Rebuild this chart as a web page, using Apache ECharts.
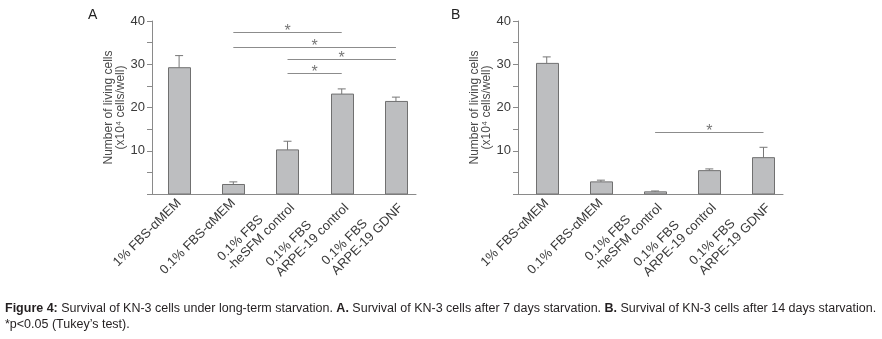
<!DOCTYPE html>
<html><head><meta charset="utf-8">
<script src="https://cdn.jsdelivr.net/npm/echarts@6/dist/echarts.min.js"></script>
<style>html,body{margin:0;padding:0;background:#fff}#c{width:882px;height:339px}</style>
</head><body><div id="c"></div>
<script>
// ---- data ----
const categories = ['1% FBS-αMEM', '0.1% FBS-αMEM', '0.1% FBS\n-heSFM control', '0.1% FBS\nARPE-19 control', '0.1% FBS\nARPE-19 GDNF'];
const meanA = [29.2, 2.2, 10.2, 23.1, 21.4];
const errA = [2.8, 0.6, 2.0, 1.2, 1.0];
const meanB = [30.2, 2.8, 0.5, 5.4, 8.4];
const errB = [1.5, 0.4, 0.2, 0.4, 2.4];
// significance brackets: [from category, to category, height]
const sigA = [[1, 3, 37.5], [1, 4, 34.1], [2, 4, 31.3], [2, 3, 27.9]];
const sigB = [[2, 4, 14.4]];
const yTickLabels = [0, 10, 20, 30, 40];
const panelLetters = ['A', 'B'];
const yName = 'Number of living cells\n(x10⁴ cells/well)';
const captionLine1 = '{b|Figure 4:} Survival of KN-3 cells under long-term starvation. {b|A.} Survival of KN-3 cells after 7 days starvation. {b|B.} Survival of KN-3 cells after 14 days starvation.';
const captionLine2 = '*p<0.05 (Tukey’s test).';

// ---- chart ----
const chart = echarts.init(document.getElementById('c'), null, {renderer: 'canvas'});
const FONT = 'Liberation Sans, Arial, Helvetica, sans-serif';
const AXIS_COLOR = '#8a8a8a';
const TEXT_COLOR = '#3a3a3a';

function barItem(params, api) {
  const i = api.value(0), m = api.value(1), e = api.value(2);
  const base = api.coord([i, 0]);
  const top = api.coord([i, m]);
  const etop = api.coord([i, m + e]);
  const w = api.size([1, 0])[0] * 0.41;
  return {type: 'group', children: [
    {type: 'line', shape: {x1: top[0], y1: top[1], x2: etop[0], y2: etop[1]}, style: {stroke: '#777', lineWidth: 1}},
    {type: 'line', shape: {x1: etop[0] - 4, y1: etop[1], x2: etop[0] + 4, y2: etop[1]}, style: {stroke: '#777', lineWidth: 1}},
    {type: 'rect', shape: {x: Math.round(base[0] - w / 2) + 0.5, y: top[1], width: Math.round(w), height: base[1] - top[1]},
      style: {fill: '#bdbec0', stroke: '#707070', lineWidth: 1}}
  ]};
}
function sigItem(params, api) {
  const a = api.coord([api.value(0), api.value(2)]);
  const b = api.coord([api.value(1), api.value(2)]);
  const y = Math.round(a[1]) + 0.5;
  return {type: 'group', children: [
    {type: 'line', shape: {x1: a[0], y1: y, x2: b[0], y2: y}, style: {stroke: '#8c8c8c', lineWidth: 1}},
    {type: 'text', x: (a[0] + b[0]) / 2, y: y - 1, style: {text: '*', font: '16px ' + FONT, fill: '#777', align: 'center', verticalAlign: 'middle'}}
  ]};
}
function catLabel(v) {
  const lines = categories[v].split('\n');
  return lines.map(l => '{a|' + l + '}').join('\n');
}
function xAxisCfg(grid, min, max) {
  return {
    type: 'value', gridIndex: grid, min: min, max: max,
    axisLine: {show: true, onZero: false, lineStyle: {color: AXIS_COLOR, width: 1}},
    axisTick: {show: false}, splitLine: {show: false},
    axisLabel: {
      customValues: categories.map((c, i) => i), rotate: 45, margin: 7,
      formatter: catLabel,
      rich: {a: {align: 'left', fontSize: 13, fontFamily: FONT, color: TEXT_COLOR, lineHeight: 14}}
    }
  };
}
function yAxisCfg(grid) {
  return {
    type: 'value', gridIndex: grid, min: 0, max: 40, interval: 5,
    name: yName, nameLocation: 'middle', nameRotate: 90, nameGap: 25,
    nameTextStyle: {fontSize: 12, fontFamily: FONT, color: '#4a4a4a', lineHeight: 12},
    axisLine: {show: true, onZero: false, lineStyle: {color: AXIS_COLOR, width: 1}},
    axisTick: {show: true, length: 5, lineStyle: {color: AXIS_COLOR}},
    splitLine: {show: false},
    axisLabel: {margin: 7, fontSize: 13, fontFamily: FONT, color: TEXT_COLOR,
      formatter: v => yTickLabels.indexOf(v) >= 0 && v !== 0 ? String(v) : ''}
  };
}
function barData(mean, err) { return mean.map((m, i) => [i, m, err[i]]); }

chart.setOption({
  animation: false,
  grid: [
    {left: 152, top: 21, width: 264, height: 173},
    {left: 518, top: 21, width: 265, height: 173}
  ],
  xAxis: [xAxisCfg(0, -0.5, 4.37), xAxisCfg(1, -0.53, 4.36)],
  yAxis: [yAxisCfg(0), yAxisCfg(1)],
  series: [
    {type: 'custom', xAxisIndex: 0, yAxisIndex: 0, renderItem: barItem, data: barData(meanA, errA), silent: true},
    {type: 'custom', xAxisIndex: 1, yAxisIndex: 1, renderItem: barItem, data: barData(meanB, errB), silent: true},
    {type: 'custom', xAxisIndex: 0, yAxisIndex: 0, renderItem: sigItem, data: sigA, silent: true},
    {type: 'custom', xAxisIndex: 1, yAxisIndex: 1, renderItem: sigItem, data: sigB, silent: true}
  ],
  graphic: [
    {type: 'text', left: 88, top: 8, style: {text: panelLetters[0], font: '14px ' + FONT, fill: '#222'}},
    {type: 'text', left: 451, top: 8, style: {text: panelLetters[1], font: '14px ' + FONT, fill: '#222'}},
    {type: 'text', left: 5, top: 302, style: {text: captionLine1, font: '12.5px ' + FONT, fill: '#231f20',
      rich: {b: {fontWeight: 'bold', fontSize: 12.5, fontFamily: FONT, fill: '#231f20'}}}},
    {type: 'text', left: 5, top: 318, style: {text: captionLine2, font: '12.5px ' + FONT, fill: '#231f20'}}
  ]
});
</script></body></html>
